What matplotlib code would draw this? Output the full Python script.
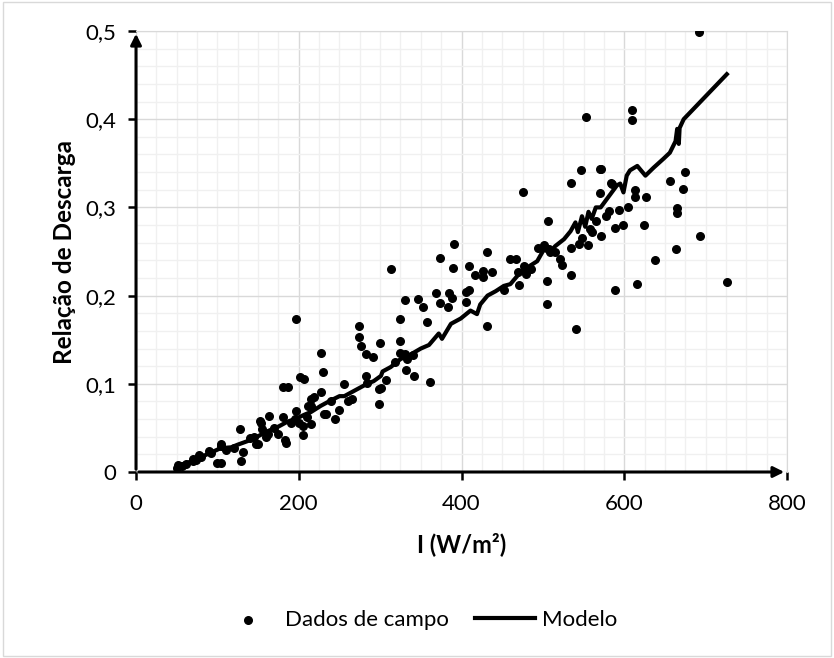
import matplotlib.pyplot as plt
import numpy as np
from matplotlib.ticker import MultipleLocator

plt.rcParams['font.family'] = ['Lato', 'DejaVu Sans']

# field data (irradiance W/m2, discharge ratio)
dados_x = [50, 56, 51, 62, 70, 70, 74, 78, 80, 90, 92, 99, 104, 104, 105, 110, 120,
           129, 132, 128, 140, 145, 147, 150, 152, 153, 155, 160, 162, 164, 170, 174,
           180, 187, 181, 183, 184, 190, 195, 200, 205, 210,
           197, 197, 202, 206, 205, 211, 215, 215, 219, 215, 227, 230, 227, 231, 234,
           245, 250, 255, 265, 274, 274, 277, 283, 291, 300, 283, 284, 298, 298, 301,
           307, 240, 260,
           313, 325, 331, 324, 325, 330, 333, 332, 340, 341, 361, 358, 347, 353, 369,
           373, 374, 385, 388, 383, 389, 391, 409, 417, 427, 427, 438, 406, 409, 406,
           431, 431, 459, 467, 452, 318,
           475, 471, 470, 477, 479, 485, 494, 501, 507, 506, 505, 505, 509, 515, 521,
           523, 534, 534, 535, 547, 541, 544, 555, 558, 560, 548, 571, 570, 570, 572,
           553, 584, 585, 581, 593, 604, 588, 599, 588, 578, 565,
           610, 610, 613, 613, 627, 624, 616, 638, 656, 675, 672, 665, 665, 663, 692,
           693, 726]
dados_y = [0.004, 0.007, 0.0075, 0.009, 0.012, 0.015, 0.014, 0.019, 0.017, 0.024, 0.022,
           0.010, 0.010, 0.032, 0.030, 0.025, 0.027,
           0.012, 0.0225, 0.049, 0.038, 0.040, 0.032, 0.032, 0.058, 0.055, 0.049, 0.040,
           0.043, 0.064, 0.050, 0.043,
           0.0965, 0.0965, 0.062, 0.036, 0.033, 0.055, 0.060, 0.055, 0.052, 0.062,
           0.173, 0.069, 0.108, 0.105, 0.042, 0.075, 0.075, 0.083, 0.085, 0.054, 0.135,
           0.113, 0.091, 0.066, 0.066,
           0.060, 0.070, 0.100, 0.083, 0.165, 0.153, 0.143, 0.134, 0.130, 0.146, 0.109,
           0.101, 0.094, 0.077, 0.095,
           0.104, 0.080, 0.080,
           0.230, 0.174, 0.195, 0.148, 0.135, 0.134, 0.128, 0.116, 0.133, 0.109, 0.102,
           0.170, 0.196, 0.187, 0.203,
           0.192, 0.243, 0.203, 0.197, 0.187, 0.231, 0.258, 0.234, 0.223, 0.228, 0.221,
           0.227, 0.204, 0.206, 0.193,
           0.249, 0.165, 0.242, 0.242, 0.206, 0.125,
           0.318, 0.212, 0.227, 0.233, 0.225, 0.230, 0.254, 0.257, 0.253, 0.285, 0.217,
           0.190, 0.250, 0.250, 0.242,
           0.235, 0.254, 0.223, 0.328, 0.342, 0.162, 0.259, 0.257, 0.276, 0.272, 0.265,
           0.268, 0.343, 0.316, 0.344,
           0.402, 0.328, 0.327, 0.296, 0.297, 0.301, 0.277, 0.280, 0.206, 0.290, 0.285,
           0.410, 0.399, 0.320, 0.312, 0.312, 0.280, 0.213, 0.240, 0.330, 0.340, 0.321,
           0.299, 0.294, 0.253, 0.499,
           0.268, 0.215]

# model curve
modelo_x = [50, 55, 68, 80, 92, 104, 117, 125, 137, 149, 161, 174, 186, 198, 207, 215,
            227, 239, 250, 256, 264, 276, 284, 292, 301, 303, 313, 325, 337, 350, 360,
            372, 376, 387, 399, 411, 419, 423, 432, 442, 452, 460, 472, 481, 493, 501,
            509, 515, 526, 534, 540, 543, 548, 552, 556, 560, 565, 571, 579, 591, 595,
            599, 603, 607, 616, 626, 636, 648, 656, 663, 665, 667, 668, 673, 726]
modelo_y = [0.002, 0.008, 0.012, 0.017, 0.022, 0.027, 0.028, 0.031, 0.035, 0.040, 0.046,
            0.051, 0.057, 0.061, 0.065, 0.068, 0.075, 0.081, 0.086, 0.086, 0.090, 0.096,
            0.100, 0.103, 0.109, 0.114, 0.119, 0.128, 0.133, 0.140, 0.144, 0.157, 0.151,
            0.168, 0.174, 0.183, 0.179, 0.190, 0.200, 0.205, 0.211, 0.213, 0.226, 0.232,
            0.239, 0.252, 0.249, 0.256, 0.264, 0.273, 0.283, 0.272, 0.290, 0.278, 0.295,
            0.287, 0.300, 0.300, 0.310, 0.325, 0.327, 0.317, 0.336, 0.342, 0.347, 0.336,
            0.345, 0.355, 0.362, 0.375, 0.389, 0.372, 0.390, 0.400, 0.451]

x_ticks = [0, 200, 400, 600, 800]
y_ticks = [0, 0.1, 0.2, 0.3, 0.4, 0.5]
y_labels = ['0', '0,1', '0,2', '0,3', '0,4', '0,5']

fig = plt.figure(figsize=(8.34, 6.58), dpi=100)
ax = fig.add_axes([0.1631, 1 - 472 / 658, (787 - 136) / 834, (472 - 31) / 658])

ax.scatter(dados_x, dados_y, s=30, color='black', zorder=3, label='Dados de campo')
ax.plot(modelo_x, modelo_y, color='black', lw=3, zorder=4, label='Modelo')

ax.set_xlim(0, 800)
ax.set_ylim(0, 0.5)
ax.set_xticks(x_ticks)
ax.set_yticks(y_ticks)
ax.set_yticklabels(y_labels)
ax.xaxis.set_minor_locator(MultipleLocator(25))
ax.yaxis.set_minor_locator(MultipleLocator(0.02))
ax.grid(which='major', color='#d9d9d9', lw=1)
ax.grid(which='minor', color='#f0f0f0', lw=1)
ax.set_axisbelow(True)
ax.tick_params(which='minor', length=0)
ax.tick_params(which='major', length=6, width=1.8, labelsize=16)
ax.tick_params(axis='x', pad=10)
ax.tick_params(axis='y', pad=8)

for s in ['top', 'right']:
    ax.spines[s].set_color('#d9d9d9')
for s in ['left', 'bottom']:
    ax.spines[s].set_visible(False)

# axis lines with arrow heads
ax.annotate('', xy=(0, 1), xytext=(0, 0), xycoords='axes fraction',
            arrowprops=dict(arrowstyle='-|>', lw=2.2, color='black', mutation_scale=16))
ax.annotate('', xy=(1, 0), xytext=(0, 0), xycoords='axes fraction',
            arrowprops=dict(arrowstyle='-|>', lw=2.2, color='black', mutation_scale=16))

ax.set_xlabel('I (W/m²)', fontsize=17, fontweight='bold', labelpad=13)
ax.set_ylabel('Relação de Descarga', fontsize=17.5, fontweight='bold', labelpad=7)

fig.legend(loc='center', bbox_to_anchor=(0.501, 0.058), ncol=2, frameon=False,
           fontsize=16, handlelength=2.7, handletextpad=0.3, columnspacing=1.2)

fig.patches.append(plt.Rectangle((0.003, 0.003), 0.994, 0.994, transform=fig.transFigure,
                                 fill=False, edgecolor='#d9d9d9', lw=1))

fig.savefig('out.png', dpi=100)
